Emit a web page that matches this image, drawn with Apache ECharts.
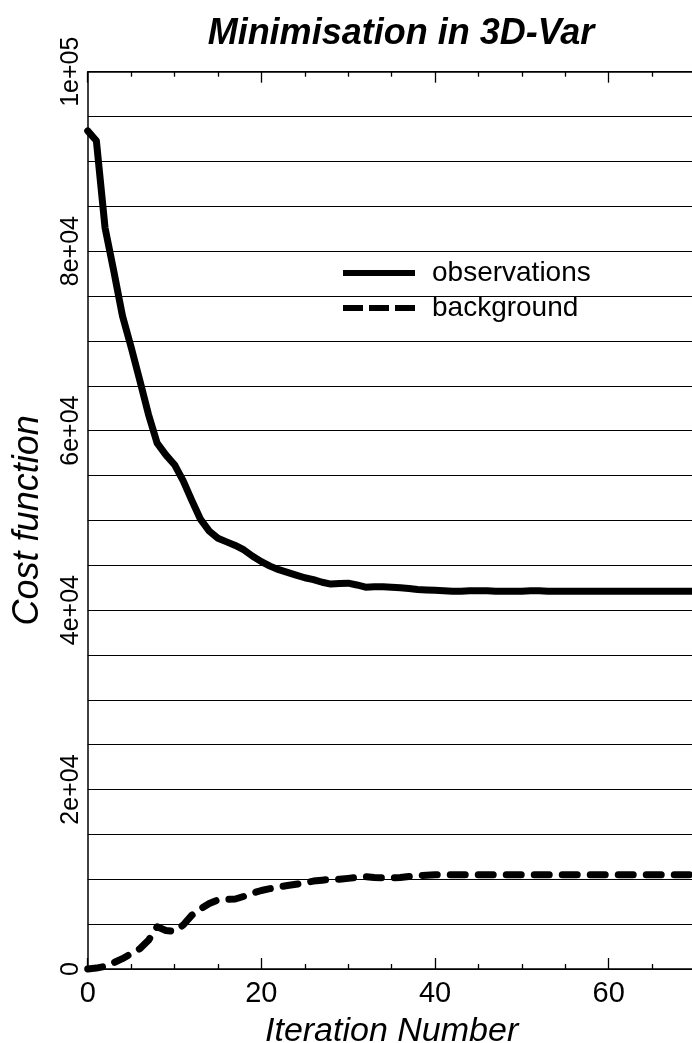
<!DOCTYPE html>
<html><head><meta charset="utf-8">
<script src="https://cdn.jsdelivr.net/npm/echarts@6/dist/echarts.min.js"></script>
<style>html,body{margin:0;padding:0;background:#fff}#c{width:692px;height:1043px}</style>
</head><body><div id="c"></div>
<script>
const iterations = [0,1,2,3,4,5,6,7,8,9,10,11,12,13,14,15,16,17,18,19,20,21,22,23,24,25,26,27,28,29,30,31,32,33,34,35,36,37,38,39,40,41,42,43,44,45,46,47,48,49,50,51,52,53,54,55,56,57,58,59,60,61,62,63,64,65,66,67,68,69,70];
const observations = [93400,92300,82600,77800,72800,69300,65600,61800,58600,57300,56200,54400,52200,50100,48800,48000,47600,47200,46700,46000,45400,44900,44500,44200,43900,43600,43400,43100,42900,42950,43000,42800,42550,42600,42600,42550,42500,42400,42300,42250,42200,42150,42100,42100,42150,42150,42150,42100,42100,42100,42100,42150,42150,42100,42100,42100,42100,42100,42100,42100,42100,42100,42100,42100,42100,42100,42100,42100,42100,42100,42100];
const background = [0,100,300,700,1150,1700,2250,3200,4700,4300,4200,4900,6000,6700,7300,7700,7750,7800,8100,8450,8750,8950,9150,9300,9450,9600,9800,9900,10000,10000,10100,10200,10300,10200,10150,10150,10200,10300,10400,10450,10500,10500,10500,10500,10500,10500,10500,10500,10500,10500,10500,10500,10500,10500,10500,10500,10500,10500,10500,10500,10500,10500,10500,10500,10500,10500,10500,10500,10500,10500,10500];
const yTickLabels = {0:'0',20000:'2e+04',40000:'4e+04',60000:'6e+04',80000:'8e+04',100000:'1e+05'};
const xTickLabels = {0:'0',20:'20',40:'40',60:'60'};

const FONT = 'Liberation Sans';
const chart = echarts.init(document.getElementById('c'));
const pairs = arr => iterations.map((x, i) => [x, arr[i]]);
const xCommon = {
  type: 'value', min: 0, max: 70, interval: 20,
  axisLine: { show: true, lineStyle: { color: '#000', width: 1.5 } },
  axisTick: { show: true, inside: true, length: 11, lineStyle: { color: '#000', width: 1.3 } },
  minorTick: { show: true, splitNumber: 4, length: 5, lineStyle: { color: '#000', width: 1.3 } },
  splitLine: { show: false }
};
chart.setOption({
  backgroundColor: '#fff',
  animation: false,
  title: {
    text: 'Minimisation in 3D-Var', left: 396, top: 11, textAlign: 'center',
    textStyle: { fontFamily: FONT, fontSize: 36, fontWeight: 'bold', fontStyle: 'italic', color: '#000' }
  },
  legend: {
    orient: 'vertical', left: 338, top: 254, itemWidth: 72, itemHeight: 6, itemGap: 7,
    textStyle: { fontFamily: FONT, fontSize: 28, color: '#000', padding: [0, 0, 0, 12] },
    itemStyle: { color: '#000', borderWidth: 0 },
    data: [
      { name: 'observations', icon: 'path://M0,0h72v6h-72z' },
      { name: 'background', icon: 'path://M0,0h20v6h-20zM26,0h20v6h-20zM52,0h20v6h-20z' }
    ]
  },
  grid: { left: 87.7, top: 71.7, right: -3.5, bottom: 74, outerBoundsMode: 'none', containLabel: false },
  xAxis: [
    Object.assign({}, xCommon, {
      position: 'bottom',
      name: 'Iteration Number', nameLocation: 'middle', nameGap: 46,
      nameTextStyle: { fontFamily: FONT, fontSize: 34, fontStyle: 'italic', color: '#000' },
      axisLabel: { show: true, margin: 10, showMaxLabel: false, fontFamily: FONT, fontSize: 29, color: '#000',
        formatter: v => (xTickLabels[v] !== undefined ? xTickLabels[v] : '') }
    }),
    Object.assign({}, xCommon, { position: 'top', axisLabel: { show: false } })
  ],
  yAxis: {
    type: 'value', min: 0, max: 100000, interval: 5000,
    name: 'Cost function', nameLocation: 'middle', nameGap: 42,
    nameTextStyle: { fontFamily: FONT, fontSize: 36, fontStyle: 'italic', color: '#000' },
    axisLine: { show: true, lineStyle: { color: '#000', width: 1.5 } },
    axisTick: { show: false },
    axisLabel: { rotate: 90, margin: 4, fontFamily: FONT, fontSize: 25, color: '#000',
      formatter: v => (yTickLabels[v] !== undefined ? yTickLabels[v] : '') },
    splitLine: { show: true, lineStyle: { color: '#000', width: 1.2 } }
  },
  series: [
    { name: 'observations', type: 'line', data: pairs(observations), showSymbol: false, symbol: 'none',
      lineStyle: { color: '#000', width: 7, cap: 'round', join: 'round' }, itemStyle: { color: '#000' }, clip: false },
    { name: 'background', type: 'line', data: pairs(background), showSymbol: false, symbol: 'none',
      lineStyle: { color: '#000', width: 7, type: [15, 13], cap: 'round', join: 'round' }, itemStyle: { color: '#000' }, clip: false }
  ]
});
</script></body></html>
